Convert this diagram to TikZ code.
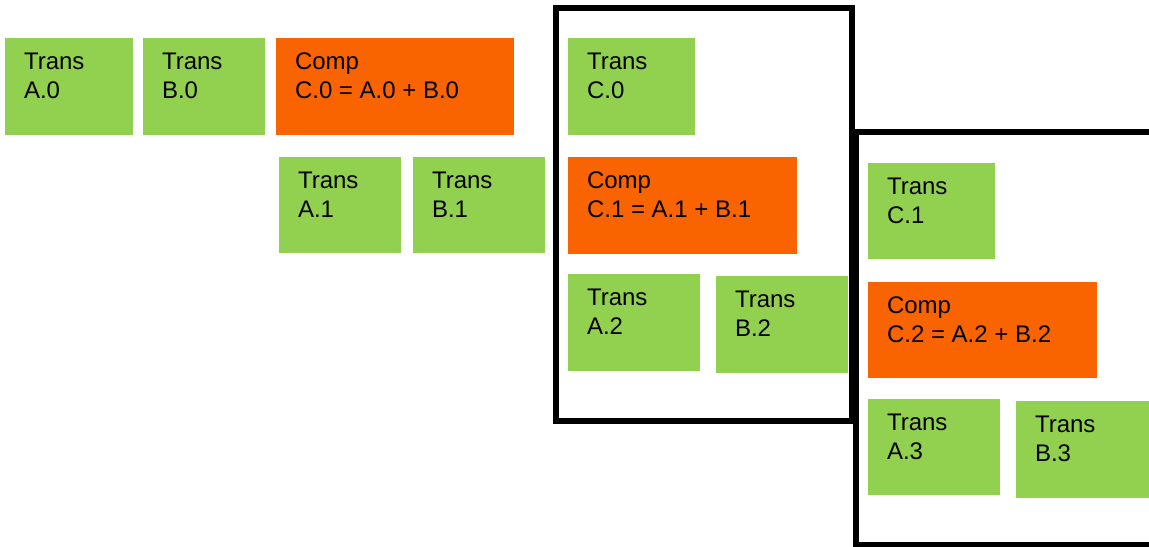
\documentclass[tikz,border=0pt]{standalone}
\usepackage{fontspec}
\setmainfont{Liberation Sans}
\usetikzlibrary{calc}
\definecolor{tgreen}{HTML}{92D050}
\definecolor{corange}{HTML}{FA6400}
\tikzset{
  tbox/.style={fill=tgreen, draw=none, inner sep=0pt, outer sep=0pt, anchor=north west},
  cbox/.style={fill=corange, draw=none, inner sep=0pt, outer sep=0pt, anchor=north west},
  lbl/.style={inner sep=0pt, outer sep=0pt, anchor=north west, align=left, text=black,
    font=\fontsize{18}{21.75}\selectfont},
  frame/.style={draw=black, line width=4.5pt, fill=white, inner sep=0pt, outer sep=0pt, anchor=north west}
}
\newcommand{\cell}[7]{%
  % #1 style, #2 name, #3 x, #4 y, #5 w, #6 h, #7 text
  \node[#1, minimum width=#5*0.75pt, minimum height=#6*0.75pt] (#2) at (#3,#4) {};
  \node[lbl] (#2t) at ($(#2.north west)+(19,15)$) {#7};
}
\begin{document}
\begin{tikzpicture}[x=0.75pt,y=-0.75pt]
\useasboundingbox (0,0) rectangle (1149,546);
% row 0
\cell{tbox}{a0}{5}{38}{128}{97}{Trans\\A.0}
\cell{tbox}{b0}{143}{38}{122}{97}{Trans\\B.0}
\cell{cbox}{c0}{276}{38}{238}{97}{Comp\\C.0 = A.0 + B.0}
\cell{tbox}{a1}{279}{157}{122}{96}{Trans\\A.1}
\cell{tbox}{b1}{413}{157}{132}{96}{Trans\\B.1}
% frame 1
\node[frame, minimum width=296.5*0.75pt, minimum height=413*0.75pt] (f1) at (555.5,8) {};
\cell{tbox}{tc0}{568}{38}{127}{97}{Trans\\C.0}
\cell{cbox}{c1}{568}{157}{229}{97}{Comp\\C.1 = A.1 + B.1}
\cell{tbox}{a2}{568}{274}{132}{97}{Trans\\A.2}
\cell{tbox}{b2}{716}{276}{132}{97}{Trans\\B.2}
% frame 2
\node[frame, minimum width=320*0.75pt, minimum height=413*0.75pt] (f2) at (856,132) {};
\cell{tbox}{tc1}{868}{163}{127}{96}{Trans\\C.1}
\cell{cbox}{c2}{868}{282}{229}{96}{Comp\\C.2 = A.2 + B.2}
\cell{tbox}{a3}{868}{399}{132}{96}{Trans\\A.3}
\cell{tbox}{b3}{1016}{401}{140}{97}{Trans\\B.3}
\end{tikzpicture}
\end{document}
